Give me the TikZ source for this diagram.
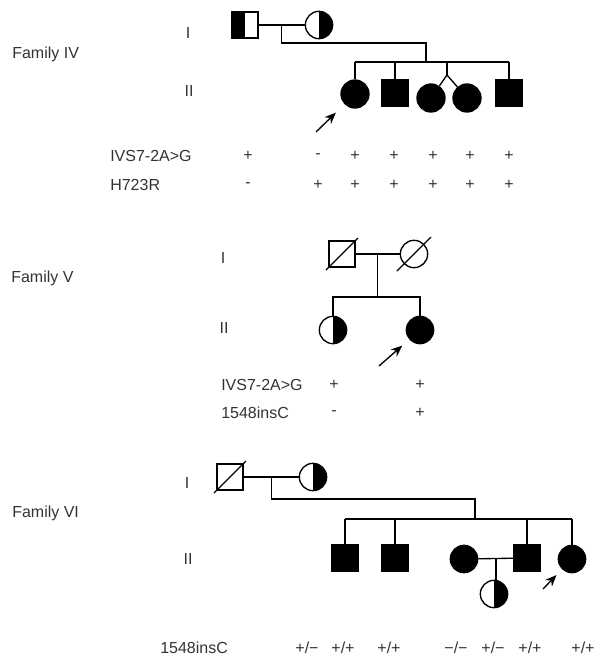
\documentclass[tikz,border=0pt]{standalone}
\usepackage{fontspec}
\setmainfont{Liberation Sans}
\usetikzlibrary{arrows.meta, calc}

\begin{document}
\begin{tikzpicture}[x=0.75pt, y=-0.75pt]

\tikzset{person/.style = {draw, line width=1pt, inner sep=0pt}}
\tikzset{male/.style = {person, shape=rectangle, minimum size=19.5pt}}
\tikzset{female/.style = {person, shape=circle, minimum size=20.5pt}}
\tikzset{affected/.style = {fill=black}}
\tikzset{carrierL/.style = {path picture={\fill (path picture bounding box.south west) rectangle (path picture bounding box.north);}}}
\tikzset{carrierR/.style = {path picture={\fill (path picture bounding box.south) rectangle (path picture bounding box.north east);}}}
\tikzset{txt/.style = {text=black!80, font=\fontsize{12}{14}\selectfont, inner sep=0pt}}
\tikzset{line/.style = {line width=1pt}}
\tikzset{proband/.style = {line width=1pt, -{Stealth[length=8.5pt, width=7pt]}}}

\useasboundingbox (0,0) rectangle (603,658);

% Family IV
\node[txt, anchor=west] (fam4) at (12,54) {Family IV};
\node[txt] (g41) at (188,33) {I};
\node[txt] (g42) at (189,91) {II};

\node[male, carrierL] (p41) at (245,25) {};
\node[female, carrierR] (p42) at (319,25) {};
\node[female, affected, minimum size=21pt] (c41) at (355,94) {};
\node[male, affected] (c42) at (395,93) {};
\node[female, affected, minimum size=21pt] (c43) at (431,98) {};
\node[female, affected, minimum size=21pt] (c44) at (467,98) {};
\node[male, affected] (c45) at (509,93) {};

\coordinate (m4) at ($(p41.east)!0.5!(p42.west)$);
\coordinate (s4) at (426,62);
\coordinate (tw4) at (447,75);
\coordinate (arr4) at (316,132);

\path[line] (p41) edge (p42);
\draw[line] (m4) -- ++(0,18) -| (s4);
\draw[line] (c41.north |- s4) -- (c45.north |- s4);
\draw[line] (c41.north) -- (c41.north |- s4);
\draw[line] (c42.north) -- (c42.north |- s4);
\draw[line] (c45.north) -- (c45.north |- s4);
\draw[line] (tw4) -- (tw4 |- s4);
\draw[line] (c43) -- (tw4) -- (c44);
\draw[proband, shorten >=9pt] (arr4) -- (c41);

\node[txt, anchor=west] (r41) at (110,156) {IVS7-2A>G};
\node[txt] (v411) at (248,156) {+};
\node[txt] (v412) at (318,156) {-};
\node[txt] (v413) at (355,156) {+};
\node[txt] (v414) at (394,156) {+};
\node[txt] (v415) at (433,156) {+};
\node[txt] (v416) at (470,156) {+};
\node[txt] (v417) at (509,156) {+};
\node[txt, anchor=west] (r42) at (110,185) {H723R};
\node[txt] (v421) at (248,185) {-};
\node[txt] (v422) at (318,185) {+};
\node[txt] (v423) at (355,185) {+};
\node[txt] (v424) at (394,185) {+};
\node[txt] (v425) at (433,185) {+};
\node[txt] (v426) at (470,185) {+};
\node[txt] (v427) at (509,185) {+};

% Family V
\node[txt, anchor=west] (fam5) at (11,278) {Family V};
\node[txt] (g51) at (223,258) {I};
\node[txt] (g52) at (224,328) {II};

\node[male] (p51) at (342,254) {};
\node[female] (p52) at (414,254) {};
\node[female, carrierR] (c51) at (333,330) {};
\node[female, affected] (c52) at (420,330) {};

\coordinate (m5) at ($(p51.east)!0.5!(p52.west)$);
\coordinate (s5) at (378,297);
\coordinate (arr5) at (379,366);

\draw[line] ([shift={(-16,16)}]p51.center) -- ([shift={(16,-16)}]p51.center);
\draw[line] ([shift={(-17,17)}]p52.center) -- ([shift={(17,-17)}]p52.center);
\path[line] (p51) edge (p52);
\draw[line] (m5) -- (m5 |- s5);
\draw[line] (c51.north) |- (s5) -| (c52.north);
\draw[proband, shorten >=7pt] (arr5) -- (c52);

\node[txt, anchor=west] (r51) at (221,385) {IVS7-2A>G};
\node[txt] (v511) at (334,385) {+};
\node[txt] (v512) at (420,385) {+};
\node[txt, anchor=west] (r52) at (221,413) {1548insC};
\node[txt] (v521) at (334,413) {-};
\node[txt] (v522) at (420,413) {+};

% Family VI
\node[txt, anchor=west] (fam6) at (12,513) {Family VI};
\node[txt] (g61) at (187,483) {I};
\node[txt] (g62) at (188,559) {II};

\node[male] (p61) at (230,477) {};
\node[female, carrierR] (p62) at (313,477) {};
\node[male, affected] (c61) at (345,558) {};
\node[male, affected] (c62) at (395,558) {};
\node[female, affected] (c63) at (464,559) {};
\node[male, affected] (c64) at (527,558) {};
\node[female, affected] (c65) at (572,559) {};
\node[female, carrierR] (c66) at (494,594) {};

\coordinate (m6) at ($(p61.east)!0.5!(p62.west)$);
\coordinate (s6) at (475,519);
\coordinate (m62) at ($(c63.east)!0.5!(c64.west)$);
\coordinate (arr6) at (543,589);

\draw[line] ([shift={(-16,16)}]p61.center) -- ([shift={(16,-16)}]p61.center);
\path[line] (p61) edge (p62);
\draw[line] (m6) -- ++(0,22) -| (s6);
\draw[line] (c61.north |- s6) -- (c65.north |- s6);
\draw[line] (c61.north) -- (c61.north |- s6);
\draw[line] (c62.north) -- (c62.north |- s6);
\draw[line] (c64.north) -- (c64.north |- s6);
\draw[line] (c65.north) -- (c65.north |- s6);
\path[line] (c63) edge (c64);
\draw[line] (m62) -- (m62 |- c66.north);
\draw[proband, shorten >=6pt] (arr6) -- (c65);

\node[txt, anchor=west] (r61) at (160,648) {1548insC};
\node[txt] (v61) at (307,648) {+/−};
\node[txt] (v62) at (343,648) {+/+};
\node[txt] (v63) at (389,648) {+/+};
\node[txt] (v64) at (456,648) {−/−};
\node[txt] (v65) at (493,648) {+/−};
\node[txt] (v66) at (530,648) {+/+};
\node[txt] (v67) at (583,648) {+/+};

\end{tikzpicture}
\end{document}
